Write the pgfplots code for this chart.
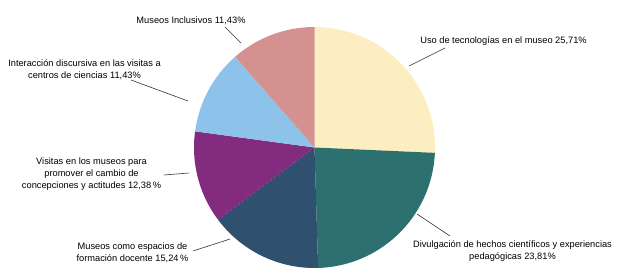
\documentclass[border=0pt]{standalone}
\usepackage{pgfplots}
\usepackage{pgfplotstable}
\pgfplotsset{compat=1.18}
\usepackage{fontspec}
\setmainfont{Liberation Sans}
\definecolor{cA}{HTML}{FCEEC1}
\definecolor{cB}{HTML}{2C716F}
\definecolor{cC}{HTML}{305070}
\definecolor{cD}{HTML}{832B7E}
\definecolor{cE}{HTML}{8DC2EB}
\definecolor{cF}{HTML}{D4918F}
\definecolor{leader}{HTML}{333333}
\pgfplotstableread{
value
25.71
23.81
15.24
12.38
11.43
11.43
}\piedata
\pgfplotstablegetelem{0}{value}\of\piedata \let\vA\pgfplotsretval
\pgfplotstablegetelem{1}{value}\of\piedata \let\vB\pgfplotsretval
\pgfplotstablegetelem{2}{value}\of\piedata \let\vC\pgfplotsretval
\pgfplotstablegetelem{3}{value}\of\piedata \let\vD\pgfplotsretval
\pgfplotstablegetelem{4}{value}\of\piedata \let\vE\pgfplotsretval
\pgfplotstablegetelem{5}{value}\of\piedata \let\vF\pgfplotsretval
\pgfmathsetmacro\aA{90}
\pgfmathsetmacro\aB{\aA-3.6*\vA}
\pgfmathsetmacro\aC{\aB-3.6*\vB}
\pgfmathsetmacro\aD{\aC-3.6*\vC}
\pgfmathsetmacro\aE{\aD-3.6*\vD}
\pgfmathsetmacro\aF{\aE-3.6*\vE}
\pgfmathsetmacro\aG{\aF-3.6*\vF}
\def\cx{314.5}
\def\cy{132.5}
\def\r{120.5}
\begin{document}
\begin{tikzpicture}
\begin{axis}[
  scale only axis, width=627bp, height=280bp,
  xmin=0, xmax=627, ymin=0, ymax=280,
  hide axis, clip=false,
  every axis plot/.append style={draw=none, samples=90, variable=\t},
]
\path (axis cs:0,0) rectangle (axis cs:627,280);
\addplot[fill=cA, domain=\aB:\aA] ({\cx+\r*cos(\t)},{\cy+\r*sin(\t)}) -- (axis cs:\cx,\cy) -- cycle;
\addplot[fill=cB, domain=\aC:\aB] ({\cx+\r*cos(\t)},{\cy+\r*sin(\t)}) -- (axis cs:\cx,\cy) -- cycle;
\addplot[fill=cC, domain=\aD:\aC] ({\cx+\r*cos(\t)},{\cy+\r*sin(\t)}) -- (axis cs:\cx,\cy) -- cycle;
\addplot[fill=cD, domain=\aE:\aD] ({\cx+\r*cos(\t)},{\cy+\r*sin(\t)}) -- (axis cs:\cx,\cy) -- cycle;
\addplot[fill=cE, domain=\aF:\aE] ({\cx+\r*cos(\t)},{\cy+\r*sin(\t)}) -- (axis cs:\cx,\cy) -- cycle;
\addplot[fill=cF, domain=\aG:\aF] ({\cx+\r*cos(\t)},{\cy+\r*sin(\t)}) -- (axis cs:\cx,\cy) -- cycle;
% leader lines
\draw[leader, line width=0.6pt] (axis cs:225,253) -- (axis cs:241,237);
\draw[leader, line width=0.6pt] (axis cs:131,200) -- (axis cs:188,179);
\draw[leader, line width=0.6pt] (axis cs:164,105) -- (axis cs:189,107);
\draw[leader, line width=0.6pt] (axis cs:193,29) -- (axis cs:230,41);
\draw[leader, line width=0.6pt] (axis cs:445,232) -- (axis cs:409,214);
\draw[leader, line width=0.6pt] (axis cs:417,66) -- (axis cs:450,44);
% labels
\tikzset{lbl/.style={align=center, inner sep=0pt, font=\fontsize{9.3}{11.8}\selectfont, text=black}}
\node[lbl] at (axis cs:191,259) {Museos Inclusivos 11,43\%};
\node[lbl] at (axis cs:84.5,210) {Interacción discursiva en las visitas a\\centros de ciencias 11,43\%};
\node[lbl] at (axis cs:91.5,106) {Visitas en los museos para\\promover el cambio de\\concepciones y actitudes 12,38\,\%};
\node[lbl] at (axis cs:132.5,27.5) {Museos como espacios de\\formación docente 15,24\,\%};
\node[lbl] at (axis cs:503.5,239) {Uso de tecnologías en el museo 25,71\%};
\node[lbl] at (axis cs:512.5,29) {Divulgación de hechos científicos y experiencias\\pedagógicas 23,81\%};
\end{axis}
\end{tikzpicture}
\end{document}
